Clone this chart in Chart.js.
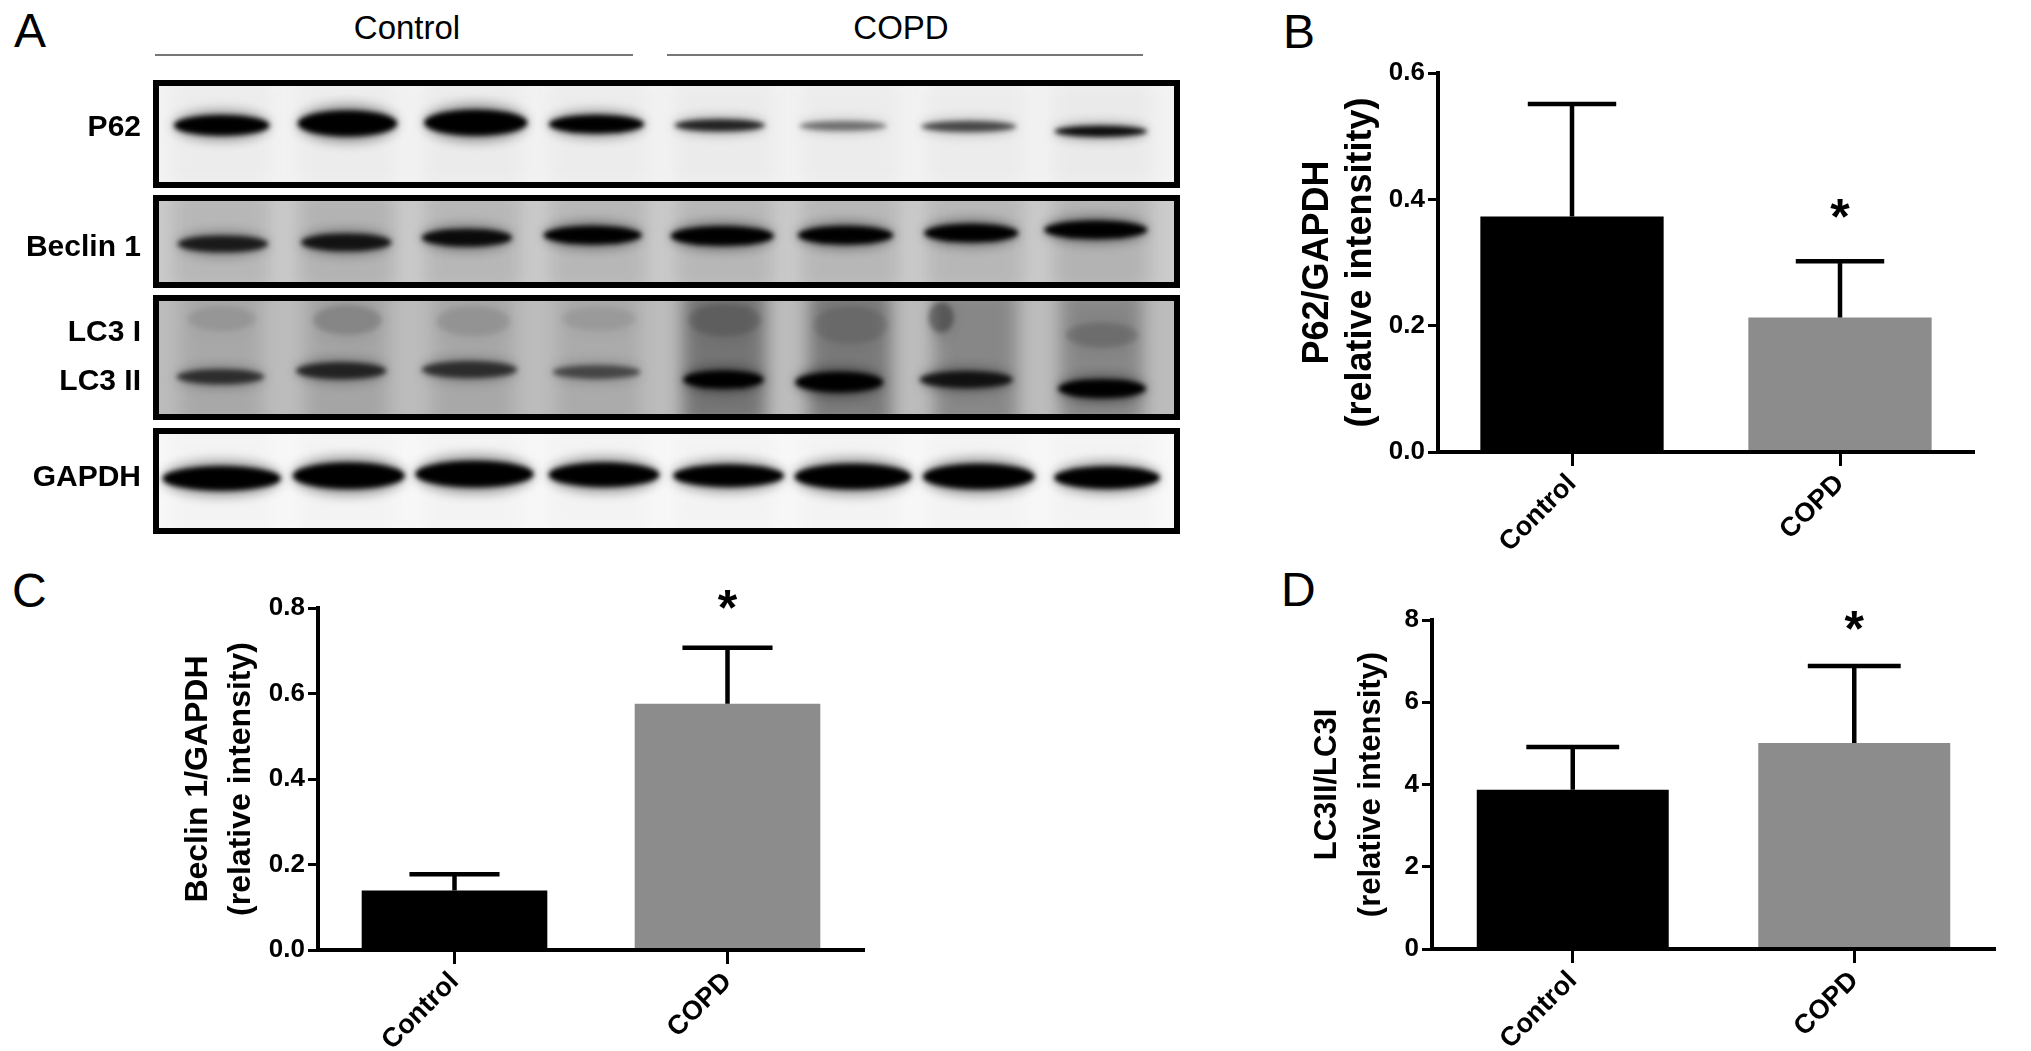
<!DOCTYPE html>
<html>
<head>
<meta charset="utf-8">
<script src="https://cdn.jsdelivr.net/npm/chart.js@4"></script>
<style>
  body { margin: 0; background: #fff; }
  #page { position: relative; width: 2031px; height: 1051px; overflow: hidden; font-family: "Liberation Sans", Arial, sans-serif; color: #000; }
  #page canvas { position: absolute; }
  .letter { position: absolute; font-size: 48px; line-height: 48px; }
  .head { position: absolute; width: 300px; text-align: center; font-size: 33px; line-height: 33px; top: 11px; }
  .rule { position: absolute; top: 54px; height: 2px; background: #777; }
</style>
</head>
<body>
<div id="page">
  <div class="letter" style="left:14px;top:7px">A</div>
  <div class="letter" style="left:1283px;top:8px">B</div>
  <div class="letter" style="left:12px;top:567px">C</div>
  <div class="letter" style="left:1281px;top:566px">D</div>
  <div class="head" style="left:257px">Control</div>
  <div class="head" style="left:751px">COPD</div>
  <div class="rule" style="left:155px;width:478px"></div>
  <div class="rule" style="left:667px;width:476px"></div>
</div>
<script>
// bar panels
const categories = ['Control', 'COPD'];
const barColors = ['#000000', '#8c8c8c'];

const p62Means = [0.373, 0.213];
const p62Tops = [0.551, 0.302];
const p62Star = [null, 0.385];

const beclinMeans = [0.139, 0.576];
const beclinTops = [0.177, 0.707];
const beclinStar = [null, 0.82];

const lc3Means = [3.87, 5.01];
const lc3Tops = [4.91, 6.88];
const lc3Star = [null, 8.0];

// blot bands: lane number, position down the membrane (0-100), width in lanes, thickness, darkness
const lanes = [1, 2, 3, 4, 5, 6, 7, 8];

const p62Lane = [1, 2, 3.02, 3.98, 4.96, 5.94, 6.94, 7.99];
const p62Pos = [41.9, 40.2, 39.5, 40.9, 41.9, 42.5, 43, 47.5];
const p62Width = [0.76, 0.79, 0.82, 0.76, 0.72, 0.7, 0.76, 0.74];
const p62Thick = [19, 24, 24, 17, 11, 9, 10, 10];
const p62Dark = [1, 1, 1, 1, 0.8, 0.45, 0.62, 0.92];
const p62Haze = [0.03, 0.03, 0.035, 0.03, 0.035, 0.03, 0.03, 0.04];

const beclinLane = [1.01, 1.99, 2.95, 3.95, 4.98, 5.96, 6.96, 7.95];
const beclinPos = [52.5, 50.9, 45.9, 43.2, 44, 43.2, 40.9, 37.4];
const beclinWidth = [0.72, 0.72, 0.72, 0.78, 0.82, 0.76, 0.75, 0.82];
const beclinThick = [18, 19, 19, 20, 21, 20, 20, 20];
const beclinDark = [0.8, 0.85, 0.92, 1, 1, 1, 1, 1];
const beclinHaze = [0.1, 0.12, 0.1, 0.1, 0.1, 0.1, 0.1, 0.12];

const lc3iLane = [1, 2, 3, 4, 5, 6, 6.72, 8];
const lc3iPos = [19, 20, 21, 19, 20, 24, 18, 32];
const lc3iWidth = [0.55, 0.55, 0.6, 0.6, 0.58, 0.6, 0.2, 0.58];
const lc3iThick = [20, 24, 24, 20, 26, 30, 24, 20];
const lc3iDark = [0.08, 0.14, 0.09, 0.07, 0.14, 0.1, 0.3, 0.14];

const lc3iiLane = [0.99, 1.95, 2.97, 3.98, 4.99, 5.91, 6.92, 8];
const lc3iiPos = [65.4, 60.6, 59.7, 61.6, 67.7, 69.7, 67.7, 74.9];
const lc3iiWidth = [0.7, 0.72, 0.76, 0.7, 0.64, 0.7, 0.74, 0.7];
const lc3iiThick = [12, 13.5, 13.5, 11, 14.5, 16.5, 13.5, 15];
const lc3iiDark = [0.65, 0.72, 0.65, 0.5, 1, 1, 0.82, 1];
const lc3Haze = [0.1, 0.12, 0.1, 0.09, 0.38, 0.35, 0.28, 0.28];

const gapdhLane = [1, 2.01, 3.01, 4.04, 5.03, 6.02, 7.02, 8.04];
const gapdhPos = [47.5, 45, 43.4, 44.1, 45, 45.8, 45.8, 46.8];
const gapdhWidth = [0.94, 0.89, 0.94, 0.88, 0.88, 0.93, 0.89, 0.84];
const gapdhThick = [23, 25, 25, 23, 21, 24, 24, 21];
const gapdhDark = [1, 1, 1, 1, 1, 1, 1, 1];
const gapdhHaze = [0.025, 0.025, 0.025, 0.025, 0.025, 0.025, 0.025, 0.025];

const page = document.getElementById('page');

function addCanvas(left, top, width, height) {
    const c = document.createElement('canvas');
    c.width = width;
    c.height = height;
    c.style.left = left + 'px';
    c.style.top = top + 'px';
    page.appendChild(c);
    return c.getContext('2d');
}

// no error bars in Chart.js, so they go on after the bars, with the asterisk
const errorBars = {
    id: 'errorBars',
    afterDatasetsDraw(chart, args, opts) {
        const ctx = chart.ctx;
        const x = chart.scales.x;
        const y = chart.scales.y;
        const capHalf = (x.getPixelForValue(1) - x.getPixelForValue(0)) * opts.cap / 2;
        ctx.save();
        ctx.strokeStyle = '#000';
        ctx.lineWidth = 4.5;
        chart.data.datasets[0].data.forEach((mean, i) => {
            const px = x.getPixelForValue(i);
            const top = y.getPixelForValue(opts.tops[i]);
            ctx.beginPath();
            ctx.moveTo(px, y.getPixelForValue(mean));
            ctx.lineTo(px, top);
            ctx.moveTo(px - capHalf, top);
            ctx.lineTo(px + capHalf, top);
            ctx.stroke();
            if (opts.star[i] !== null) {
                ctx.font = 'bold 50px "Liberation Sans"';
                ctx.textAlign = 'center';
                ctx.fillStyle = '#000';
                const m = ctx.measureText('*');
                const mid = (m.actualBoundingBoxAscent - m.actualBoundingBoxDescent) / 2;
                ctx.fillText('*', px, y.getPixelForValue(opts.star[i]) + mid);
            }
        });
        ctx.restore();
    }
};

function barPanel(cfg) {
    const left = cfg.titleLeft;
    const canvasTop = cfg.top - 40;
    const width = cfg.right - left + 10;
    const height = cfg.bottom - canvasTop + 110;
    const ctx = addCanvas(left, canvasTop, width, height);
    new Chart(ctx, {
        type: 'bar',
        data: {
            labels: categories,
            datasets: [{
                data: cfg.means,
                backgroundColor: barColors,
                barPercentage: cfg.barWidth,
                categoryPercentage: 1
            }]
        },
        plugins: [errorBars],
        options: {
            responsive: false,
            animation: false,
            layout: { autoPadding: false, padding: { top: 40, right: 10, left: 0, bottom: 0 } },
            plugins: {
                legend: { display: false },
                tooltip: { enabled: false },
                errorBars: { tops: cfg.tops, star: cfg.star, cap: 0.33 }
            },
            scales: {
                x: {
                    afterFit(s) { s.height = 110; },
                    border: { color: '#000', width: 4, z: 1 },
                    grid: { display: true, offset: false, drawOnChartArea: false, tickLength: 14, tickWidth: 3, tickColor: '#000' },
                    ticks: {
                        color: '#000',
                        maxRotation: 45,
                        minRotation: 45,
                        padding: 2,
                        font: { family: 'Liberation Sans', weight: 'bold', size: 27 }
                    }
                },
                y: {
                    min: 0,
                    max: cfg.max,
                    afterFit(s) { s.width = cfg.left - left; },
                    border: { color: '#000', width: 4, z: 1 },
                    grid: { display: true, drawOnChartArea: false, tickLength: 10, tickWidth: 3, tickColor: '#000' },
                    title: {
                        display: true,
                        text: cfg.title,
                        color: '#000',
                        padding: 0,
                        font: { family: 'Liberation Sans', weight: 'bold', size: cfg.titleSize, lineHeight: cfg.titleLine }
                    },
                    ticks: {
                        color: '#000',
                        stepSize: cfg.step,
                        padding: 3,
                        font: { family: 'Liberation Sans', weight: 'bold', size: 26 },
                        callback: v => v.toFixed(cfg.digits)
                    }
                }
            }
        }
    });
}

barPanel({
    left: 1438, right: 1974, top: 73, bottom: 452, titleLeft: 1296,
    means: p62Means, tops: p62Tops, star: p62Star, max: 0.6, step: 0.2, digits: 1, barWidth: 0.684,
    title: ['P62/GAPDH', '(relative intensitity)'], titleSize: 36, titleLine: 1.2
});
barPanel({
    left: 318, right: 864, top: 608, bottom: 950, titleLeft: 176,
    means: beclinMeans, tops: beclinTops, star: beclinStar, max: 0.8, step: 0.2, digits: 1, barWidth: 0.68,
    title: ['Beclin 1/GAPDH', '(relative intensity)'], titleSize: 32, titleLine: 1.36
});
barPanel({
    left: 1432, right: 1995, top: 620, bottom: 949, titleLeft: 1306,
    means: lc3Means, tops: lc3Tops, star: lc3Star, max: 8, step: 2, digits: 0, barWidth: 0.682,
    title: ['LC3II/LC3I', '(relative intensity)'], titleSize: 31, titleLine: 1.4
});

// soft sprite for one point, sized from the scales: a band is an ellipse with a halo, a smear is a soft block
function bandSprite(pxW, pxH, dark, smear) {
    const blur = smear ? Math.max(4, Math.min(pxW, pxH) * 0.1) : 2.5;
    const pad = smear ? Math.ceil(blur * 3) + 2 : Math.ceil(pxH * 0.6) + 14;
    const c = document.createElement('canvas');
    c.width = Math.ceil(pxW + pad * 2);
    c.height = Math.ceil(pxH + pad * 2);
    const g = c.getContext('2d');
    const cx = c.width / 2;
    const cy = c.height / 2;
    if (smear) {
        g.filter = 'blur(' + blur + 'px)';
        g.fillStyle = 'rgba(0,0,0,' + dark + ')';
        g.beginPath();
        g.roundRect(pad, pad, pxW, pxH, 6);
        g.fill();
        return c;
    }
    g.filter = 'blur(6px)';
    g.fillStyle = 'rgba(0,0,0,' + dark * 0.4 + ')';
    g.beginPath();
    g.ellipse(cx, cy, pxW / 2, pxH * 0.72, 0, 0, Math.PI * 2);
    g.fill();
    g.filter = 'blur(' + blur + 'px)';
    g.fillStyle = 'rgba(0,0,0,' + dark + ')';
    g.beginPath();
    g.ellipse(cx, cy, pxW / 2, pxH / 2, 0, 0, Math.PI * 2);
    g.fill();
    return c;
}

function bandDataset(s, order, smear) {
    return {
        data: s.lane.map((l, i) => ({ x: l, y: s.pos[i] })),
        order: order,
        pointRadius: 3,
        pointStyle(ctx) {
            const i = ctx.dataIndex;
            const sx = ctx.chart.scales.x;
            const sy = ctx.chart.scales.y;
            const w = sx.getPixelForValue(s.width[i]) - sx.getPixelForValue(0);
            const h = sy.getPixelForValue(s.thick[i]) - sy.getPixelForValue(0);
            return bandSprite(w, h, s.dark[i], smear);
        }
    };
}

const blotFrame = {
    id: 'blotFrame',
    beforeDatasetsDraw(chart, args, opts) {
        const a = chart.chartArea;
        chart.ctx.fillStyle = opts.background;
        chart.ctx.fillRect(a.left, a.top, a.width, a.height);
    },
    afterDatasetsDraw(chart) {
        const a = chart.chartArea;
        chart.ctx.strokeStyle = '#000';
        chart.ctx.lineWidth = 6;
        chart.ctx.strokeRect(a.left + 3, a.top + 3, a.width - 6, a.height - 6);
    }
};

function blotPanel(cfg) {
    const ctx = addCanvas(0, cfg.top, 1190, cfg.height);
    new Chart(ctx, {
        type: 'scatter',
        data: { datasets: cfg.sets },
        plugins: [blotFrame],
        options: {
            responsive: false,
            animation: false,
            layout: { autoPadding: false, padding: { right: 10 } },
            plugins: {
                legend: { display: false },
                tooltip: { enabled: false },
                blotFrame: { background: cfg.background }
            },
            scales: {
                x: { display: false, min: 0.454, max: 8.62 },
                y: {
                    min: 0,
                    max: 100,
                    reverse: true,
                    // the label height would otherwise eat into the membrane
                    afterFit(s) { s.width = 153; s.paddingTop = 0; s.paddingBottom = 0; },
                    afterBuildTicks(s) { s.ticks = cfg.labelPos.map(v => ({ value: v })); },
                    border: { display: false },
                    grid: { display: false },
                    ticks: {
                        color: '#000',
                        padding: 4,
                        autoSkip: false,
                        font: { family: 'Liberation Sans', weight: 'bold', size: 30 },
                        callback: (v, i) => cfg.labels[i]
                    }
                }
            }
        }
    });
}

function haze(values, width, thick) {
    return bandDataset({
        lane: lanes,
        pos: lanes.map(() => 50),
        width: lanes.map(() => width),
        thick: lanes.map(() => thick),
        dark: values
    }, 3, true);
}

blotPanel({
    top: 80, height: 108, background: '#f4f4f4',
    labels: ['P62'], labelPos: [44.6],
    sets: [
        bandDataset({ lane: p62Lane, pos: p62Pos, width: p62Width, thick: p62Thick, dark: p62Dark }, 1),
        haze(p62Haze, 0.84, 100)
    ]
});
blotPanel({
    top: 195, height: 93, background: '#cccccc',
    labels: ['Beclin 1'], labelPos: [57],
    sets: [
        bandDataset({ lane: beclinLane, pos: beclinPos, width: beclinWidth, thick: beclinThick, dark: beclinDark }, 1),
        haze(beclinHaze, 0.78, 110)
    ]
});
blotPanel({
    top: 295, height: 125, background: '#bcbcbc',
    labels: ['LC3 I', 'LC3 II'], labelPos: [30.5, 69],
    sets: [
        bandDataset({ lane: lc3iiLane, pos: lc3iiPos, width: lc3iiWidth, thick: lc3iiThick, dark: lc3iiDark }, 1),
        bandDataset({ lane: lc3iLane, pos: lc3iPos, width: lc3iWidth, thick: lc3iThick, dark: lc3iDark }, 2),
        haze(lc3Haze, 0.66, 110)
    ]
});
blotPanel({
    top: 428, height: 106, background: '#f9f9f9',
    labels: ['GAPDH'], labelPos: [47],
    sets: [
        bandDataset({ lane: gapdhLane, pos: gapdhPos, width: gapdhWidth, thick: gapdhThick, dark: gapdhDark }, 1),
        haze(gapdhHaze, 0.84, 100)
    ]
});
</script>
</body>
</html>
